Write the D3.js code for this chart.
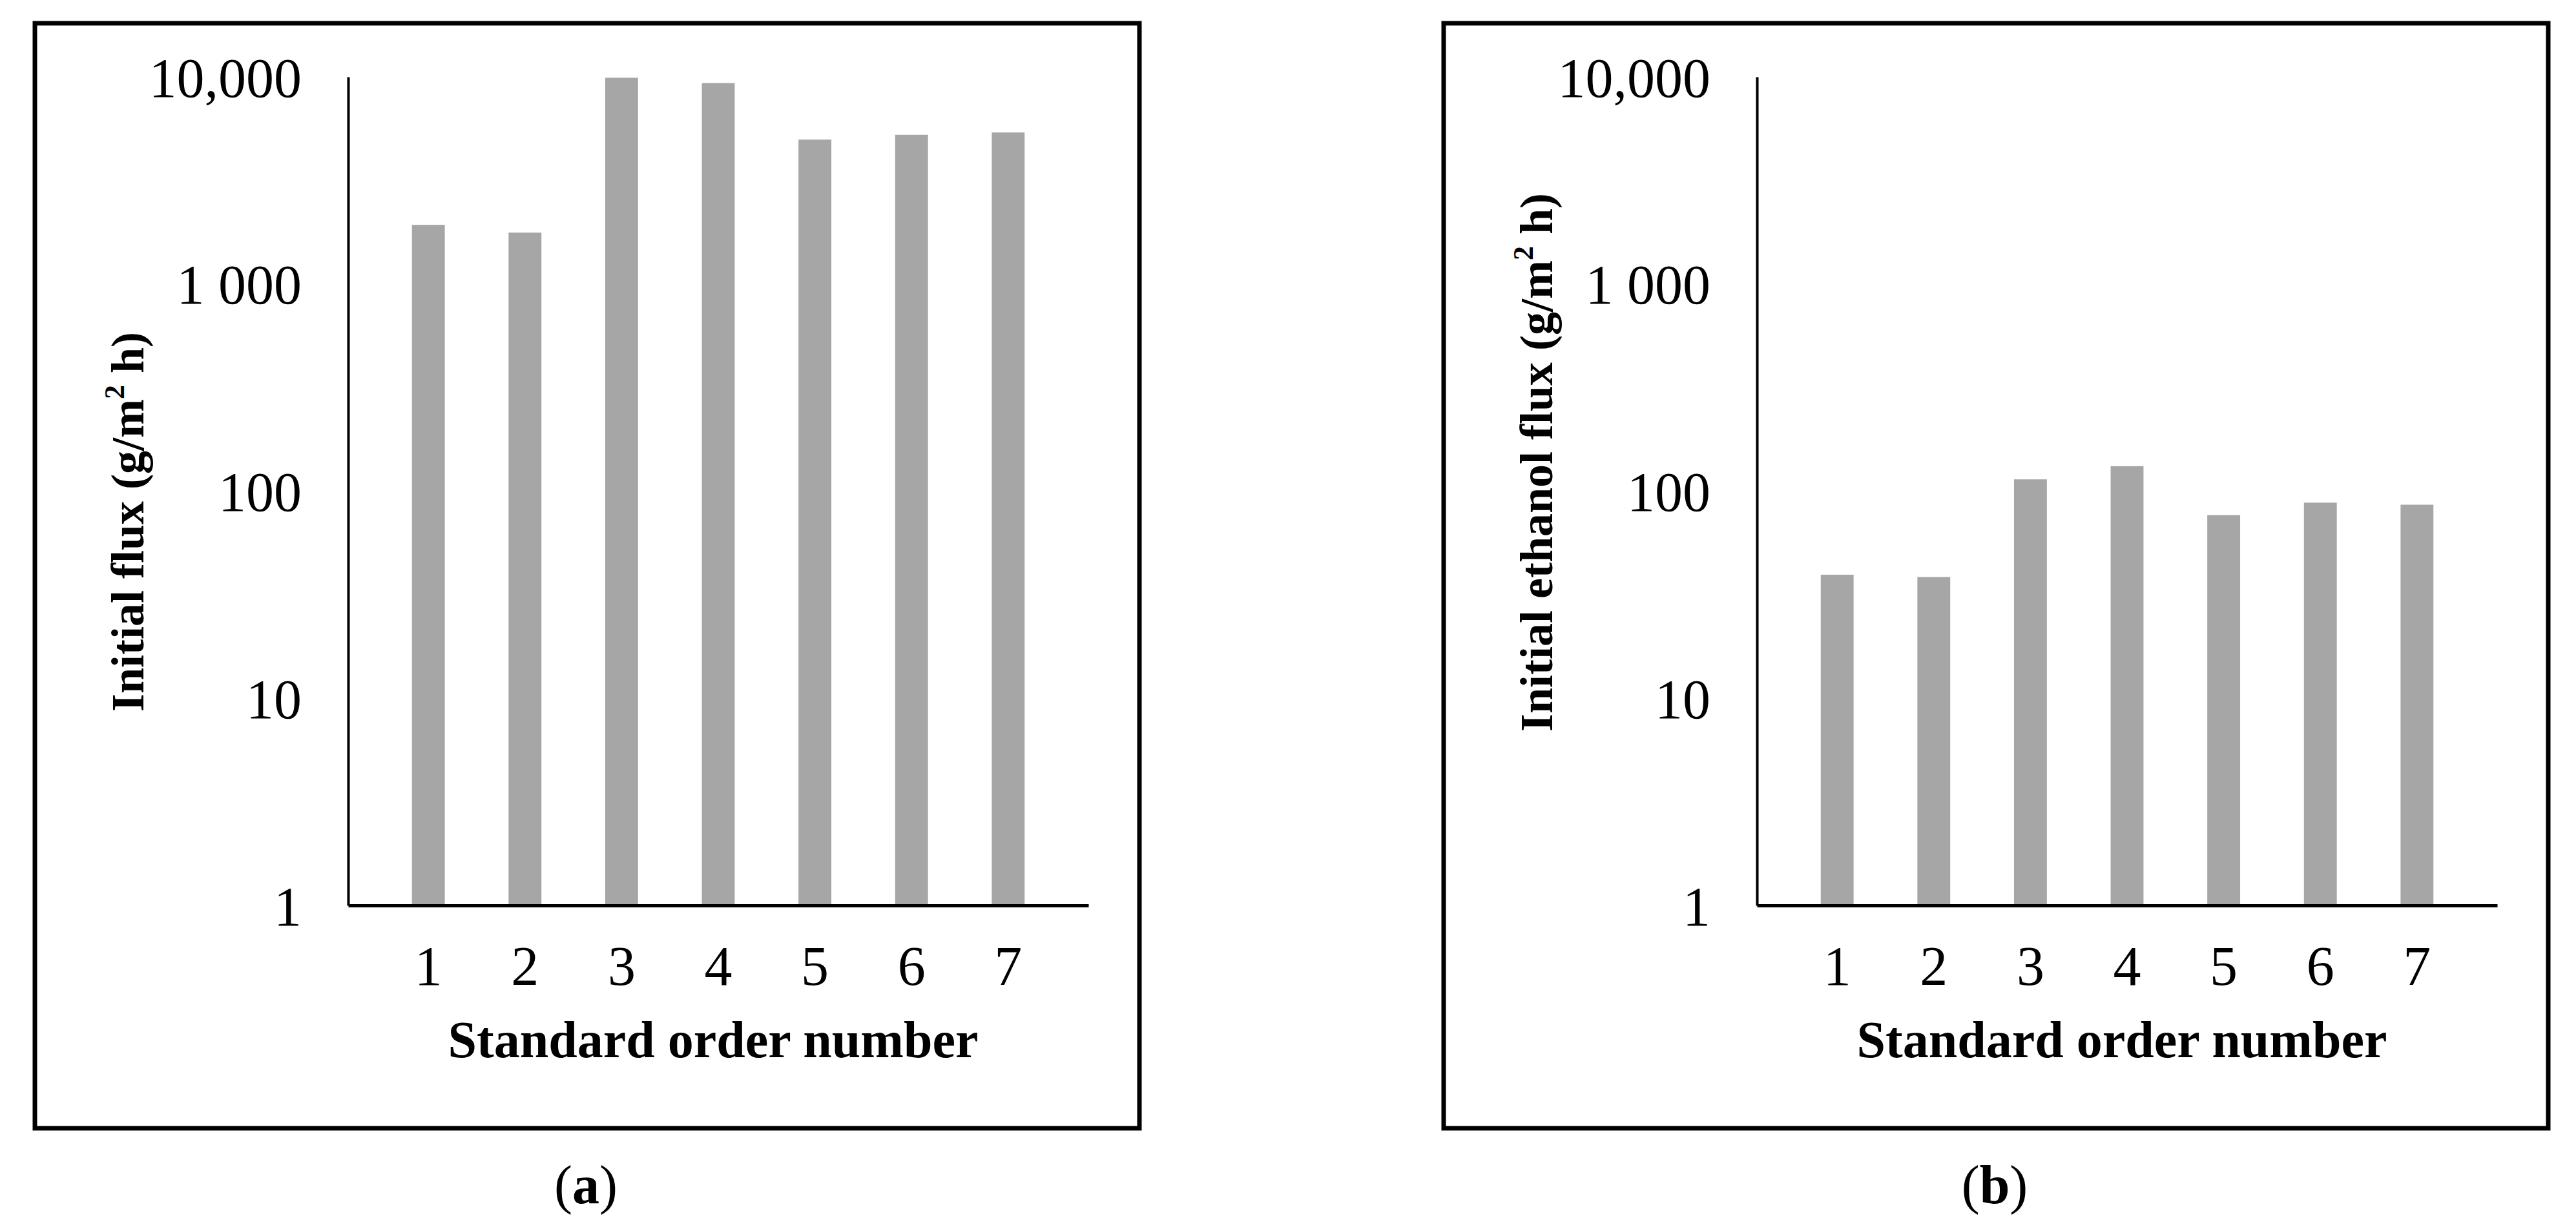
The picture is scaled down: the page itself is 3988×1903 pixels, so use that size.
<!DOCTYPE html>
<html>
<head>
<meta charset="utf-8">
<script src="https://cdn.jsdelivr.net/npm/d3@7"></script>
<style>
  body { margin: 0; background: white; }
  text { font-family: "Liberation Serif", "Times New Roman", serif; }
</style>
</head>
<body>
<div id="chart"></div>
<script>
// data
const orders = [1, 2, 3, 4, 5, 6, 7]
const flux_total = [1930, 1770, 9900, 9330, 4980, 5250, 5390]
const flux_ethanol = [39.5, 38.5, 114, 132, 76.6, 88, 86]
const y_ticks = [1, 10, 100, 1000, 10000]
const y_tick_labels = ['1', '10', '100', '1 000', '10,000']

// constants
const W = 3988, H = 1903
const box_w = 1710, box_h = 1711
const margin = {top: 83, left: 485, right: 79, bottom: 345}
const bar_color = '#a6a6a6'

const svg = d3.select('#chart').append('svg')
    .attr('width', W)
    .attr('height', H)

function drawPanel(x0, values, ylabel, ylabel_cy, caption) {
    const g = svg.append('g').attr('transform', `translate(${x0}, 36)`)

    g.append('rect')
        .attr('width', box_w).attr('height', box_h)
        .attr('fill', 'none').attr('stroke', 'black').attr('stroke-width', 7)

    const inner_w = box_w - margin.left - margin.right
    const inner_h = box_h - margin.top - margin.bottom
    const plot = g.append('g').attr('transform', `translate(${margin.left}, ${margin.top})`)

    const x = d3.scaleBand().domain(orders).range([0, inner_w]).padding(0.66)
    const y = d3.scaleLog().domain([1, 10000]).range([inner_h, 0])

    plot.selectAll('rect.bar')
        .data(values)
        .join('rect')
            .attr('class', 'bar')
            .attr('x', (d, i) => x(orders[i]))
            .attr('y', d => y(d))
            .attr('width', x.bandwidth())
            .attr('height', d => inner_h - y(d))
            .attr('fill', bar_color)

    // y axis
    const ya = plot.append('g')
        .call(d3.axisLeft(y).tickValues(y_ticks).tickSize(0).tickPadding(72)
            .tickFormat((d, i) => y_tick_labels[i]))
    ya.select('.domain').attr('stroke-width', 4)
    ya.selectAll('text').attr('font-size', 86).attr('font-family', 'Liberation Serif').attr('dy', '0.35em')

    // x axis
    const xa = plot.append('g')
        .attr('transform', `translate(0, ${inner_h})`)
        .call(d3.axisBottom(x).tickSize(0).tickPadding(62))
    xa.select('.domain').attr('stroke-width', 5)
    xa.selectAll('text').attr('font-size', 86).attr('font-family', 'Liberation Serif')

    plot.append('text')
        .attr('x', inner_w / 2 - 8)
        .attr('y', inner_h + 235)
        .attr('text-anchor', 'middle')
        .attr('font-size', 80)
        .attr('font-weight', 'bold')
        .text('Standard order number')

    const yl = g.append('text')
        .attr('transform', `translate(168, ${ylabel_cy}) rotate(-90)`)
        .attr('text-anchor', 'middle')
        .attr('font-size', 72)
        .attr('font-weight', 'bold')
    yl.append('tspan').text(ylabel)
    yl.append('tspan').attr('font-size', 44).attr('dy', -30).text('2')
    yl.append('tspan').attr('dy', 30).text(' h)')

    const cap = g.append('text')
        .attr('x', 853)
        .attr('y', 1827)
        .attr('text-anchor', 'middle')
        .attr('font-size', 84)
    cap.append('tspan').text('(')
    cap.append('tspan').attr('font-weight', 'bold').text(caption)
    cap.append('tspan').text(')')
}

drawPanel(54, flux_total, 'Initial flux (g/m', 772, 'a')
drawPanel(2235, flux_ethanol, 'Initial ethanol flux (g/m', 680, 'b')
</script>
</body>
</html>
